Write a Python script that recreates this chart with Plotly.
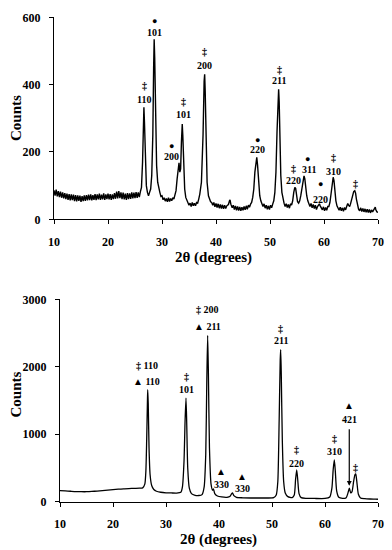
import plotly.graph_objects as go

# ---------------- data ----------------
top_two_theta = [
    10.0, 10.2, 10.4, 10.6, 10.8, 11.0, 11.2, 11.4, 11.6, 11.8, 12.0, 12.2, 12.4, 12.6, 12.8,
    13.0, 13.2, 13.4, 13.6, 13.8, 14.0, 14.2, 14.4, 14.6, 14.8, 15.0, 15.2, 15.4, 15.6, 15.8,
    16.0, 16.2, 16.4, 16.6, 16.8, 17.0, 17.2, 17.4, 17.6, 17.8, 18.0, 18.2, 18.4, 18.6, 18.8,
    19.0, 19.2, 19.4, 19.6, 19.8, 20.0, 20.2, 20.4, 20.6, 20.8, 21.0, 21.2, 21.4, 21.6, 21.8,
    22.0, 22.2, 22.4, 22.6, 22.8, 23.0, 23.2, 23.4, 23.6, 23.8, 24.0, 24.2, 24.4, 24.6, 24.8,
    25.0, 25.2, 25.4, 25.6, 25.8, 26.0, 26.2, 26.4, 26.55, 26.65, 26.75, 26.9, 27.1, 27.3,
    27.5, 27.7, 27.9, 28.1, 28.3, 28.45, 28.55, 28.65, 28.8, 29.0, 29.2, 29.4, 29.6, 29.8,
    30.0, 30.2, 30.4, 30.6, 30.8, 31.0, 31.2, 31.4, 31.6, 31.8, 32.0, 32.2, 32.4, 32.6, 32.8,
    33.0, 33.15, 33.3, 33.45, 33.6, 33.75, 33.85, 34.0, 34.2, 34.4, 34.6, 34.8, 35.0, 35.2,
    35.4, 35.6, 35.8, 36.0, 36.2, 36.4, 36.6, 36.8, 37.0, 37.3, 37.6, 37.8, 37.9, 38.0, 38.15,
    38.35, 38.6, 38.8, 39.0, 39.2, 39.4, 39.6, 39.8, 40.0, 40.2, 40.4, 40.6, 40.8, 41.0, 41.2,
    41.4, 41.6, 41.8, 42.0, 42.3, 42.5, 42.6, 42.75, 43.0, 43.2, 43.4, 43.6, 43.8, 44.0, 44.2,
    44.4, 44.6, 44.8, 45.0, 45.2, 45.4, 45.6, 45.8, 46.0, 46.2, 46.4, 46.6, 46.8, 47.0, 47.2,
    47.4, 47.55, 47.7, 47.9, 48.1, 48.3, 48.5, 48.7, 48.9, 49.1, 49.3, 49.5, 49.7, 49.9, 50.1,
    50.3, 50.5, 50.7, 50.9, 51.1, 51.3, 51.5, 51.6, 51.7, 51.85, 52.0, 52.2, 52.4, 52.6, 52.8,
    53.0, 53.2, 53.4, 53.6, 53.8, 54.0, 54.2, 54.4, 54.6, 54.75, 54.9, 55.1, 55.3, 55.5, 55.7,
    55.9, 56.1, 56.3, 56.45, 56.6, 56.8, 57.0, 57.2, 57.4, 57.6, 57.8, 58.0, 58.2, 58.4, 58.6,
    58.8, 59.0, 59.15, 59.3, 59.5, 59.7, 59.9, 60.1, 60.3, 60.5, 60.7, 60.9, 61.1, 61.3, 61.5,
    61.7, 61.85, 62.0, 62.2, 62.4, 62.6, 62.8, 63.0, 63.2, 63.4, 63.6, 63.8, 64.0, 64.2, 64.4,
    64.55, 64.75, 64.9, 65.1, 65.3, 65.5, 65.7, 65.85, 66.0, 66.2, 66.4, 66.6, 66.8, 67.0,
    67.2, 67.4, 67.6, 67.8, 68.0, 68.2, 68.4, 68.6, 68.8, 69.0, 69.2, 69.4, 69.5, 69.6, 69.8,
    70.0,
]
top_counts = [
    86, 70, 88, 68, 84, 66, 82, 64, 80, 62, 78, 60, 76, 58, 75,
    56, 74, 57, 73, 54, 72, 53, 71, 55, 70, 52, 69, 54, 71, 55,
    72, 56, 73, 57, 74, 56, 72, 58, 75, 57, 74, 59, 76, 58, 73,
    59, 77, 58, 74, 60, 76, 59, 75, 58, 74, 60, 78, 61, 82, 62,
    84, 63, 80, 60, 79, 59, 76, 58, 78, 60, 77, 61, 80, 62, 79,
    63, 81, 64, 80, 66, 82, 95, 170, 300, 333, 290, 160, 100, 80,
    70, 80, 90, 130, 250, 450, 535, 480, 300, 160, 110, 90, 80, 68,
    70, 58, 64, 54, 62, 52, 64, 53, 62, 55, 64, 60, 72, 85, 120,
    160, 168, 140, 150, 230, 283, 250, 150, 90, 65, 55, 50, 42, 48,
    38, 50, 40, 48, 40, 50, 48, 60, 75, 110, 250, 410, 431, 380, 230,
    110, 70, 60, 52, 50, 42, 50, 37, 47, 35, 46, 33, 44, 32, 43,
    31, 42, 32, 40, 44, 55, 58, 45, 34, 42, 29, 40, 27, 38, 26,
    37, 25, 36, 27, 38, 28, 40, 30, 42, 36, 45, 50, 65, 90, 140,
    180, 184, 160, 100, 70, 55, 46, 38, 46, 33, 42, 30, 40, 29, 42,
    34, 45, 55, 80, 140, 260, 370, 386, 350, 230, 130, 80, 58, 48, 38,
    46, 35, 44, 33, 46, 42, 55, 80, 95, 92, 70, 52, 48, 55, 70,
    95, 120, 129, 120, 95, 70, 55, 48, 38, 47, 34, 44, 32, 42, 29,
    38, 44, 46, 40, 32, 28, 37, 25, 35, 27, 38, 38, 50, 80, 115,
    125, 115, 85, 55, 40, 34, 27, 36, 25, 34, 24, 35, 28, 38, 47,
    42, 38, 45, 60, 75, 82, 85, 78, 60, 40, 30, 25, 34, 23,
    32, 22, 31, 21, 30, 20, 29, 19, 28, 22, 29, 32, 36, 28, 22,
    21,
]

bottom_two_theta = [
    10, 11, 12, 13, 14, 15, 16, 17, 18, 19, 20, 21, 22, 23, 24, 25, 25.6, 26.0, 26.2, 26.35,
    26.5, 26.55, 26.65, 26.8, 27.0, 27.3, 27.7, 28.2, 29, 30, 31, 32, 32.8, 33.1, 33.4, 33.6,
    33.77, 33.9, 34.1, 34.4, 34.8, 35.5, 36.2, 36.8, 37.2, 37.5, 37.7, 37.86, 38.0, 38.2, 38.5,
    38.8, 38.95, 39.2, 39.7, 40.5, 41.5, 42.1, 42.4, 42.55, 42.8, 43.3, 44.5, 46, 47.5, 49,
    50.3, 50.8, 51.1, 51.35, 51.55, 51.64, 51.75, 51.95, 52.2, 52.5, 53, 53.8, 54.2, 54.45,
    54.66, 54.85, 55.1, 55.5, 56.5, 58, 60, 60.9, 61.3, 61.55, 61.76, 61.95, 62.2, 62.6, 63.3,
    64.0, 64.3, 64.6, 64.85, 65.1, 65.4, 65.65, 65.8, 66.0, 66.3, 66.7, 67.5, 68.5, 69.5, 70,
]
bottom_counts = [
    165, 160, 155, 150, 148, 148, 152, 158, 165, 172, 178, 185, 190, 195, 198, 200, 205, 260, 450, 900,
    1500, 1659, 1450, 800, 400, 240, 180, 155, 140, 132, 130, 128, 140, 220, 600, 1200,
    1535, 1200, 500, 200, 120, 95, 92, 105, 220, 700, 1800, 2466, 1900, 800, 260,
    170, 190, 120, 85, 70, 65, 80, 120, 130, 90, 65, 58, 55, 55, 55,
    60, 100, 300, 1200, 2100, 2253, 1900, 900, 300, 130, 75, 62, 100, 330,
    471, 330, 120, 60, 50, 48, 48, 70, 200, 480, 619, 450, 160, 65, 50,
    60, 120, 199, 130, 150, 300, 400, 411, 300, 110, 55, 45, 40, 38, 36,
]

x_ticks = [10, 20, 30, 40, 50, 60, 70]
top_y_ticks = [0, 200, 400, 600]
bottom_y_ticks = [0, 1000, 2000, 3000]

# peak labels (2theta, counts, text)
top_label_x = [28.52, 28.52, 26.67, 26.67, 31.67, 31.67, 33.9, 33.9, 37.9, 37.9,
               51.67, 51.67, 47.6, 47.6, 54.26, 54.26, 57.0, 57.2, 59.26, 59.26,
               61.67, 61.67, 65.8]
top_label_y = [589, 556, 396, 357, 218, 188, 351, 310, 497, 458,
               446, 411, 236, 206, 151, 114, 179, 149, 104, 60,
               185, 143, 107]
top_label_text = ["●", "101", "‡", "110", "●", "200", "‡", "101", "‡", "200",
                  "‡", "211", "●", "220", "‡", "220", "●", "311", "●", "220",
                  "‡", "310", "‡"]

bottom_label_x = [26.4, 26.4, 33.96, 33.96, 37.74, 37.74, 51.64, 51.64, 40.38, 40.38,
                  44.34, 44.34, 54.66, 54.66, 61.7, 61.7, 64.58, 64.58, 65.79]
bottom_label_y = [2015, 1788, 1857, 1659, 2847, 2599, 2565, 2382, 446, 248,
                  371, 189, 768, 570, 942, 743, 1421, 1213, 511]
bottom_label_text = ["‡ 110", "▲ 110", "‡", "101", "‡ 200", "▲ 211", "‡", "211", "▲", "330",
                     "▲", "330", "‡", "220", "‡", "310", "▲", "421", "‡"]

arrow_two_theta = 64.58
arrow_from_counts = 1095
arrow_to_counts = 235

# ---------------- figure ----------------
FONT = "Liberation Serif"
fig = go.Figure()

fig.add_trace(go.Scatter(x=top_two_theta, y=top_counts, mode="lines",
                         line=dict(color="black", width=1.4),
                         xaxis="x", yaxis="y", showlegend=False, hoverinfo="skip"))
fig.add_trace(go.Scatter(x=bottom_two_theta, y=bottom_counts, mode="lines",
                         line=dict(color="black", width=1.3, shape="spline", smoothing=0.6),
                         xaxis="x2", yaxis="y2", showlegend=False, hoverinfo="skip"))


def xaxis(domain, anchor):
    return dict(domain=domain, anchor=anchor, range=[10, 70], tickvals=x_ticks,
                showline=True, linecolor="black", linewidth=1, ticks="outside",
                ticklen=4, tickcolor="black", tickwidth=1, showgrid=False, zeroline=False,
                automargin=False,
                tickfont=dict(family=FONT, size=12, color="black", weight="bold"),
                ticklabelstandoff=7)


def yaxis(domain, anchor, rng, ticks):
    return dict(domain=domain, anchor=anchor, range=rng, tickvals=ticks,
                showline=True, linecolor="black", linewidth=1, ticks="outside",
                ticklen=4, tickcolor="black", tickwidth=1, showgrid=False, zeroline=False,
                automargin=False,
                tickfont=dict(family=FONT, size=12, color="black", weight="bold"),
                ticklabelstandoff=6)


W, H = 392, 550
annotations = []


def label_font(t):
    size = 9 if t == "●" else 10
    return dict(family=FONT, size=size, color="#000000", weight="bold")


for x, y, t in zip(top_label_x, top_label_y, top_label_text):
    annotations.append(dict(x=x, y=y, xref="x", yref="y", text=t, showarrow=False,
                            xanchor="center", yanchor="middle", font=label_font(t)))
for x, y, t in zip(bottom_label_x, bottom_label_y, bottom_label_text):
    annotations.append(dict(x=x, y=y, xref="x2", yref="y2", text=t, showarrow=False,
                            xanchor="center", yanchor="middle", font=label_font(t)))
annotations.append(dict(x=arrow_two_theta, y=arrow_to_counts, xref="x2", yref="y2",
                        ax=arrow_two_theta, ay=arrow_from_counts, axref="x2", ayref="y2",
                        text="", showarrow=True, arrowhead=2, arrowsize=0.8,
                        arrowwidth=1.2, arrowcolor="black"))

title_font = dict(family=FONT, size=15, color="black", weight="bold")
annotations += [
    dict(x=15.5 / W, y=1 - 118.5 / H, xref="paper", yref="paper", text="Counts",
         textangle=-90, showarrow=False, xanchor="center", yanchor="middle", font=title_font),
    dict(x=15.5 / W, y=1 - 395 / H, xref="paper", yref="paper", text="Counts",
         textangle=-90, showarrow=False, xanchor="center", yanchor="middle", font=title_font),
    dict(x=213 / W, y=1 - 257 / H, xref="paper", yref="paper", text="2θ (degrees)",
         showarrow=False, xanchor="center", yanchor="middle", font=title_font),
    dict(x=218 / W, y=1 - 539 / H, xref="paper", yref="paper", text="2θ (degrees)",
         showarrow=False, xanchor="center", yanchor="middle", font=title_font),
]

fig.update_layout(
    width=W, height=H,
    margin=dict(l=0, r=0, t=0, b=0, pad=0, autoexpand=False),
    paper_bgcolor="white", plot_bgcolor="white",
    xaxis=xaxis([54 / W, 378 / W], "y"),
    yaxis=yaxis([1 - 219.3 / H, 1 - 17.3 / H], "x", [0, 600], top_y_ticks),
    xaxis2=xaxis([60 / W, 378 / W], "y2"),
    yaxis2=yaxis([1 - 501.7 / H, 1 - 299.3 / H], "x2", [0, 3000], bottom_y_ticks),
    annotations=annotations,
    showlegend=False,
)

fig.write_html("out.html", config={"displayModeBar": False},
               post_script="document.body.style.margin='0';document.body.style.padding='0';")
